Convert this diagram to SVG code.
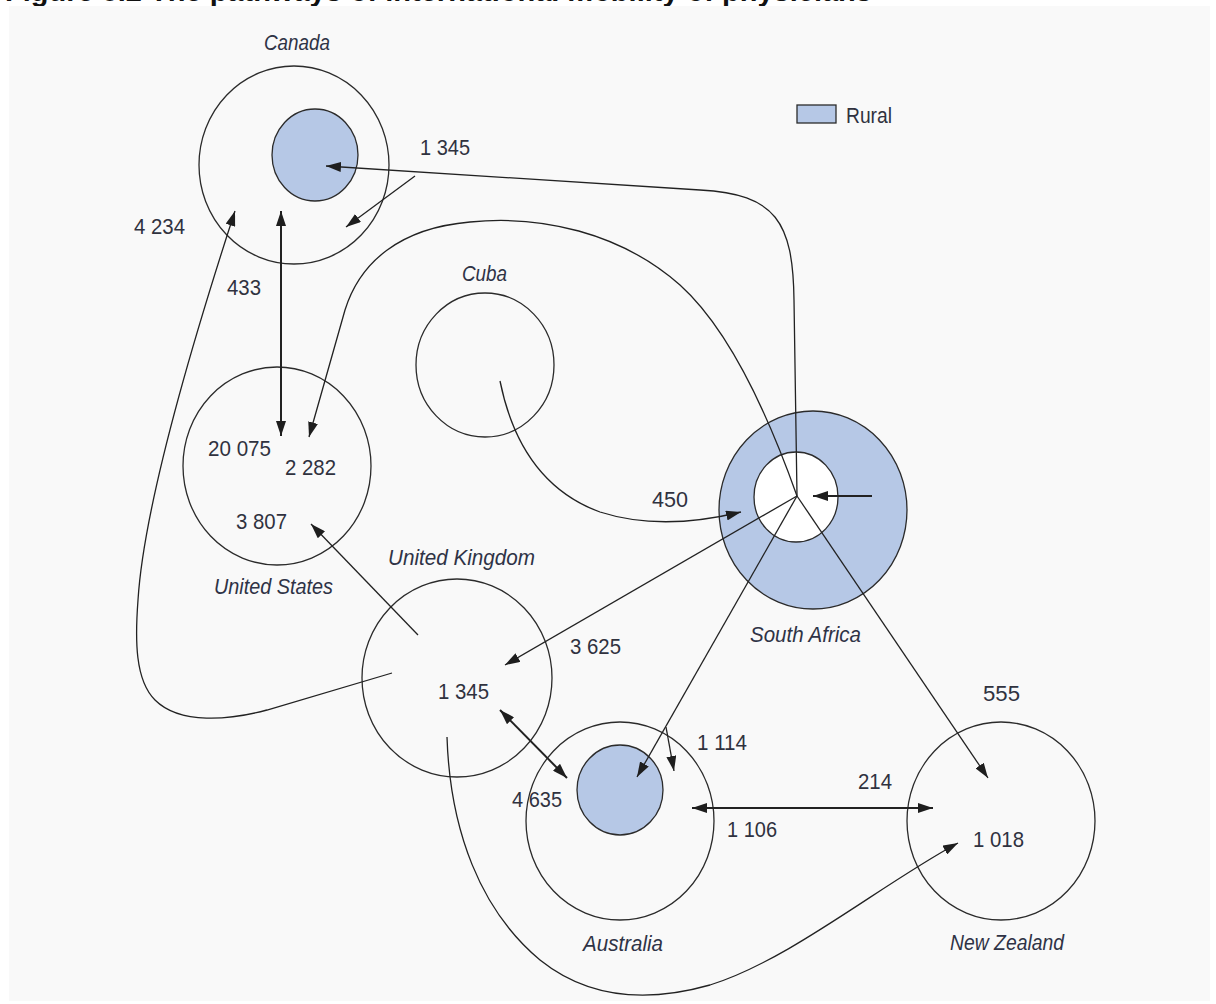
<svg xmlns="http://www.w3.org/2000/svg" width="1216" height="1004" viewBox="0 0 1216 1004">
  <style>
    .ring { fill: none; stroke: #2b2b2b; stroke-width: 1.3; }
    .rural { fill: #b6c8e6; stroke: #2b2b2b; stroke-width: 1.3; }
    .hole { fill: #ffffff; stroke: #2b2b2b; stroke-width: 1.3; }
    .num { font-family: "Liberation Sans", Arial, sans-serif; font-size: 22px; fill: #30323f; }
    .name { font-family: "Liberation Sans", Arial, sans-serif; font-size: 22px; font-style: italic; fill: #2f3346; }
    .flow { fill: none; stroke: #222222; stroke-width: 1.3; }
    .flow2 { fill: none; stroke: #222222; stroke-width: 2; }
  </style>
  <defs>
    <marker id="head" markerUnits="userSpaceOnUse" markerWidth="16" markerHeight="10" refX="15" refY="5" orient="auto-start-reverse">
      <path d="M0,0 L15,5 L0,10 z" fill="#1e1e1e"/>
    </marker>
  </defs>

  <rect width="1216" height="1004" fill="#ffffff"/>
  <!-- caption, mostly hidden behind the panel -->
  <text x="5" y="1" font-family="Liberation Sans, Arial, sans-serif" font-size="29" font-weight="bold" fill="#111111">Figure 5.2 The pathways of international mobility of physicians</text>
  <rect x="9" y="6" width="1201" height="995" fill="#f9f9f9"/>

  <!-- legend -->
  <g id="legend">
    <rect x="797" y="105" width="39" height="18" class="rural" stroke-width="1.6"/>
    <text x="846" y="123" class="num" textLength="46" lengthAdjust="spacingAndGlyphs">Rural</text>
  </g>

  <g id="canada">
    <ellipse cx="294" cy="165" rx="95" ry="99" class="ring"/>
    <ellipse cx="315" cy="155" rx="43" ry="46" class="rural"/>
    <text x="264" y="50" class="name" textLength="66" lengthAdjust="spacingAndGlyphs">Canada</text>
  </g>

  <g id="cuba">
    <ellipse cx="485" cy="365" rx="69" ry="72" class="ring"/>
    <text x="462" y="281" class="name" textLength="45" lengthAdjust="spacingAndGlyphs">Cuba</text>
  </g>

  <g id="united-states">
    <ellipse cx="277" cy="466" rx="94" ry="99" class="ring"/>
    <text x="214" y="594" class="name" textLength="119" lengthAdjust="spacingAndGlyphs">United States</text>
  </g>

  <g id="south-africa">
    <ellipse cx="813" cy="510" rx="94" ry="99" class="rural"/>
    <ellipse cx="796" cy="497" rx="42" ry="45" class="hole"/>
    <text x="750" y="642" class="name" textLength="111" lengthAdjust="spacingAndGlyphs">South Africa</text>
  </g>

  <g id="united-kingdom">
    <ellipse cx="457" cy="678" rx="95" ry="99" class="ring"/>
    <text x="388" y="565" class="name" textLength="147" lengthAdjust="spacingAndGlyphs">United Kingdom</text>
  </g>

  <g id="australia">
    <ellipse cx="620" cy="821" rx="94" ry="99" class="ring"/>
    <ellipse cx="620" cy="790" rx="43" ry="45" class="rural"/>
    <text x="583" y="951" class="name" textLength="80" lengthAdjust="spacingAndGlyphs">Australia</text>
  </g>

  <g id="new-zealand">
    <ellipse cx="1001" cy="821" rx="94" ry="99" class="ring"/>
    <text x="950" y="950" class="name" textLength="114" lengthAdjust="spacingAndGlyphs">New Zealand</text>
  </g>

  <!-- flows between countries -->
  <g id="connectors">
    <!-- Canada <-> United States -->
    <path d="M281,211 L281,436" class="flow2" marker-start="url(#head)" marker-end="url(#head)"/>
    <!-- South Africa -> Canada -->
    <path d="M797,496 L794,300 C793,222 776,194 700,190 L326,166" class="flow" marker-end="url(#head)"/>
    <path d="M415,176 L346,227" class="flow" marker-end="url(#head)"/>
    <!-- South Africa -> United States -->
    <path d="M797,496 C770,420 730,330 680,285 C620,232 540,215 470,222 C400,228 360,262 345,310 L309,437" class="flow" marker-end="url(#head)"/>
    <!-- Cuba -> South Africa -->
    <path d="M500,381 C512,440 540,490 600,512 C650,528 700,522 741,512" class="flow" marker-end="url(#head)"/>
    <!-- South Africa -> United Kingdom, Australia, New Zealand -->
    <path d="M797,496 L505,665" class="flow" marker-end="url(#head)"/>
    <path d="M797,496 L637,777" class="flow" marker-end="url(#head)"/>
    <path d="M666,727 L674,771" class="flow" marker-end="url(#head)"/>
    <path d="M797,496 L988,778" class="flow" marker-end="url(#head)"/>
    <path d="M872,496 L813,496" class="flow2" marker-end="url(#head)"/>
    <!-- United Kingdom -> United States, Canada -->
    <path d="M418,635 L311,524" class="flow" marker-end="url(#head)"/>
    <path d="M392,673 L267,710 C230,720 180,725 155,700 C135,680 135,640 138,600 C143,520 180,380 235,211" class="flow" marker-end="url(#head)"/>
    <!-- United Kingdom <-> Australia -->
    <path d="M500,710 L567,778" class="flow2" marker-start="url(#head)" marker-end="url(#head)"/>
    <!-- Australia <-> New Zealand -->
    <path d="M692,808 L933,808" class="flow2" marker-start="url(#head)" marker-end="url(#head)"/>
    <!-- United Kingdom -> New Zealand -->
    <path d="M447,737 C450,830 480,910 540,960 C590,1000 650,1002 710,985 C790,960 880,885 958,843" class="flow" marker-end="url(#head)"/>
  </g>

  <!-- flow figures -->
  <g id="figures">
    <text x="420" y="155" class="num" textLength="50" lengthAdjust="spacingAndGlyphs">1 345</text>
    <text x="134" y="234" class="num" textLength="51" lengthAdjust="spacingAndGlyphs">4 234</text>
    <text x="227" y="295" class="num" textLength="34" lengthAdjust="spacingAndGlyphs">433</text>
    <text x="208" y="456" class="num" textLength="63" lengthAdjust="spacingAndGlyphs">20 075</text>
    <text x="285" y="475" class="num" textLength="51" lengthAdjust="spacingAndGlyphs">2 282</text>
    <text x="236" y="529" class="num" textLength="51" lengthAdjust="spacingAndGlyphs">3 807</text>
    <text x="652" y="507" class="num" textLength="36" lengthAdjust="spacingAndGlyphs">450</text>
    <text x="570" y="654" class="num" textLength="51" lengthAdjust="spacingAndGlyphs">3 625</text>
    <text x="438" y="699" class="num" textLength="51" lengthAdjust="spacingAndGlyphs">1 345</text>
    <text x="983" y="701" class="num" textLength="37" lengthAdjust="spacingAndGlyphs">555</text>
    <text x="697" y="750" class="num" textLength="50" lengthAdjust="spacingAndGlyphs">1 114</text>
    <text x="858" y="789" class="num" textLength="34" lengthAdjust="spacingAndGlyphs">214</text>
    <text x="512" y="807" class="num" textLength="50" lengthAdjust="spacingAndGlyphs">4 635</text>
    <text x="727" y="837" class="num" textLength="50" lengthAdjust="spacingAndGlyphs">1 106</text>
    <text x="973" y="847" class="num" textLength="51" lengthAdjust="spacingAndGlyphs">1 018</text>
  </g>
</svg>
